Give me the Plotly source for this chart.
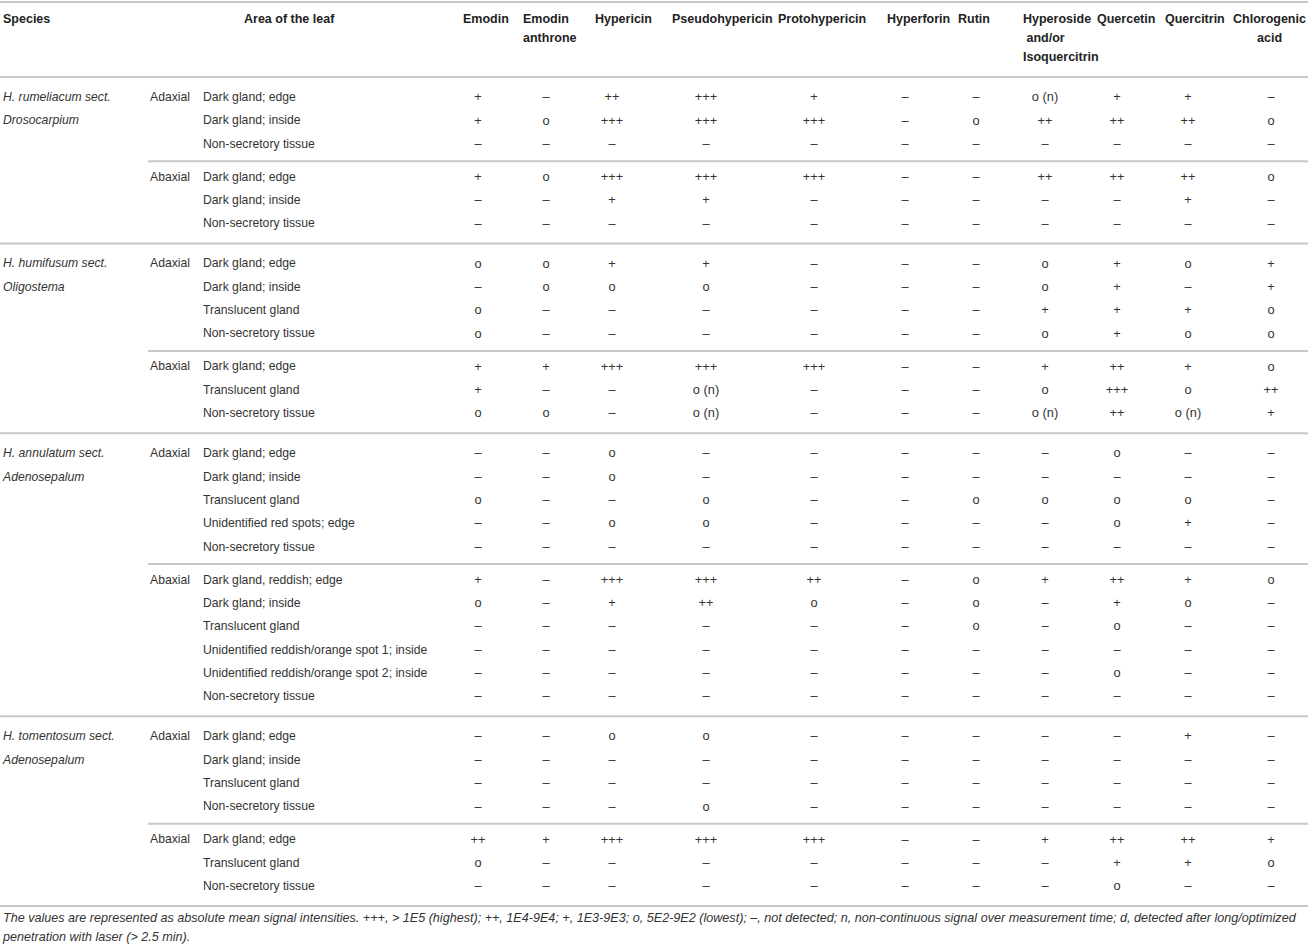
import plotly.graph_objects as go

D = "–"  # not detected

# column headers, one list item per printed line
compound_headers = [["Emodin"], ["Emodin", "anthrone"], ["Hypericin"], ["Pseudohypericin"],
                    ["Protohypericin"], ["Hyperforin"], ["Rutin"],
                    ["Hyperoside", " and/or", "Isoquercitrin"], ["Quercetin"], ["Quercitrin"],
                    ["Chlorogenic", "acid"]]

species = ["H. rumeliacum sect.", "H. humifusum sect.", "H. annulatum sect.", "H. tomentosum sect."]
sections = ["Drosocarpium", "Oligostema", "Adenosepalum", "Adenosepalum"]

rum_adaxial_areas = ["Dark gland; edge", "Dark gland; inside", "Non-secretory tissue"]
rum_adaxial = [
    ["+", D, "++", "+++", "+", D, D, "o (n)", "+", "+", D],
    ["+", "o", "+++", "+++", "+++", D, "o", "++", "++", "++", "o"],
    [D, D, D, D, D, D, D, D, D, D, D],
]
rum_abaxial_areas = ["Dark gland; edge", "Dark gland; inside", "Non-secretory tissue"]
rum_abaxial = [
    ["+", "o", "+++", "+++", "+++", D, D, "++", "++", "++", "o"],
    [D, D, "+", "+", D, D, D, D, D, "+", D],
    [D, D, D, D, D, D, D, D, D, D, D],
]

hum_adaxial_areas = ["Dark gland; edge", "Dark gland; inside", "Translucent gland", "Non-secretory tissue"]
hum_adaxial = [
    ["o", "o", "+", "+", D, D, D, "o", "+", "o", "+"],
    [D, "o", "o", "o", D, D, D, "o", "+", D, "+"],
    ["o", D, D, D, D, D, D, "+", "+", "+", "o"],
    ["o", D, D, D, D, D, D, "o", "+", "o", "o"],
]
hum_abaxial_areas = ["Dark gland; edge", "Translucent gland", "Non-secretory tissue"]
hum_abaxial = [
    ["+", "+", "+++", "+++", "+++", D, D, "+", "++", "+", "o"],
    ["+", D, D, "o (n)", D, D, D, "o", "+++", "o", "++"],
    ["o", "o", D, "o (n)", D, D, D, "o (n)", "++", "o (n)", "+"],
]

ann_adaxial_areas = ["Dark gland; edge", "Dark gland; inside", "Translucent gland",
                     "Unidentified red spots; edge", "Non-secretory tissue"]
ann_adaxial = [
    [D, D, "o", D, D, D, D, D, "o", D, D],
    [D, D, "o", D, D, D, D, D, D, D, D],
    ["o", D, D, "o", D, D, "o", "o", "o", "o", D],
    [D, D, "o", "o", D, D, D, D, "o", "+", D],
    [D, D, D, D, D, D, D, D, D, D, D],
]
ann_abaxial_areas = ["Dark gland, reddish; edge", "Dark gland; inside", "Translucent gland",
                     "Unidentified reddish/orange spot 1; inside",
                     "Unidentified reddish/orange spot 2; inside", "Non-secretory tissue"]
ann_abaxial = [
    ["+", D, "+++", "+++", "++", D, "o", "+", "++", "+", "o"],
    ["o", D, "+", "++", "o", D, "o", D, "+", "o", D],
    [D, D, D, D, D, D, "o", D, "o", D, D],
    [D, D, D, D, D, D, D, D, D, D, D],
    [D, D, D, D, D, D, D, D, "o", D, D],
    [D, D, D, D, D, D, D, D, D, D, D],
]

tom_adaxial_areas = ["Dark gland; edge", "Dark gland; inside", "Translucent gland", "Non-secretory tissue"]
tom_adaxial = [
    [D, D, "o", "o", D, D, D, D, D, "+", D],
    [D, D, D, D, D, D, D, D, D, D, D],
    [D, D, D, D, D, D, D, D, D, D, D],
    [D, D, D, "o", D, D, D, D, D, D, D],
]
tom_abaxial_areas = ["Dark gland; edge", "Translucent gland", "Non-secretory tissue"]
tom_abaxial = [
    ["++", "+", "+++", "+++", "+++", D, D, "+", "++", "++", "+"],
    ["o", D, D, D, D, D, D, D, "+", "+", "o"],
    [D, D, D, D, D, D, D, D, "o", D, D],
]

blocks = [
    [("Adaxial", rum_adaxial_areas, rum_adaxial), ("Abaxial", rum_abaxial_areas, rum_abaxial)],
    [("Adaxial", hum_adaxial_areas, hum_adaxial), ("Abaxial", hum_abaxial_areas, hum_abaxial)],
    [("Adaxial", ann_adaxial_areas, ann_adaxial), ("Abaxial", ann_abaxial_areas, ann_abaxial)],
    [("Adaxial", tom_adaxial_areas, tom_adaxial), ("Abaxial", tom_abaxial_areas, tom_abaxial)],
]

footnote = ["The values are represented as absolute mean signal intensities. +++, > 1E5 (highest); "
            "++, 1E4-9E4; +, 1E3-9E3; o, 5E2-9E2 (lowest); –, not detected; n, non-continuous signal "
            "over measurement time; d, detected after long/optimized",
            "penetration with laser (> 2.5 min)."]

# ---- layout (pixel-like units on hidden axes) ----
W, H = 1308, 947
FONT = "Liberation Sans, Arial, Helvetica, sans-serif"
TXT = "#333333"
LINE = "#c8c8c8"
value_x = [478, 546, 612, 706, 814, 905, 976, 1045, 1117, 1188, 1271]
header_x = [463, 523, 595, 672, 778, 887, 958, 1023, 1097, 1165, 1233]
acid_x = 1257
species_x, side_x, area_x = 3, 150, 203
area_head_x = 244
row_step, side_gap, group_gap = 23.35, 33, 40
y_first = 98

fig = go.Figure()
shapes = []

def hline(y, x0=0):
    shapes.append(dict(type="line", xref="x", yref="y", x0=x0, x1=W, y0=y, y1=y,
                       line=dict(color=LINE, width=2)))

hline(2)
hline(77)

# header
hx, hy, ht = [], [], []
for i, lines in enumerate(compound_headers):
    for k, t in enumerate(lines):
        x = header_x[i]
        if lines[0] == "Chlorogenic" and k == 1:
            x = acid_x
        hx.append(x)
        hy.append(20 + 19 * k)
        ht.append("<b>%s</b>" % t)
hx += [species_x, area_head_x]
hy += [20, 20]
ht += ["<b>Species</b>", "<b>Area of the leaf</b>"]
fig.add_trace(go.Scatter(x=hx, y=hy, text=ht, mode="text", textposition="middle right",
                         textfont=dict(family=FONT, size=12.5, color="#222222"), hoverinfo="skip"))

lx, ly, lt = [], [], []
vx, vy, vt = [], [], []
y = y_first
last_line = 0
for g, sides in enumerate(blocks):
    lx += [species_x, species_x]
    ly += [y, y + row_step]
    lt += ["<i>%s</i>" % species[g], "<i>%s</i>" % sections[g]]
    for s, (side, areas, vals) in enumerate(sides):
        if s > 0:
            y += side_gap
            hline(y - side_gap / 2, side_x - 2)
        lx.append(side_x)
        ly.append(y)
        lt.append(side)
        for r, (area, row) in enumerate(zip(areas, vals)):
            if r > 0:
                y += row_step
            lx.append(area_x)
            ly.append(y)
            lt.append(area)
            for c, v in enumerate(row):
                vx.append(value_x[c])
                vy.append(y)
                vt.append(v)
    last_line = y + 19
    hline(last_line)
    y += group_gap

fig.add_trace(go.Scatter(x=lx, y=ly, text=lt, mode="text", textposition="middle right",
                         textfont=dict(family=FONT, size=12.2, color=TXT), hoverinfo="skip"))
fig.add_trace(go.Scatter(x=vx, y=vy, text=vt, mode="text", textposition="middle center",
                         textfont=dict(family=FONT, size=12.8, color=TXT), hoverinfo="skip"))

fy = last_line + 13
fig.add_trace(go.Scatter(x=[species_x, species_x], y=[fy, fy + 19],
                         text=["<i>%s</i>" % t for t in footnote], mode="text",
                         textposition="middle right",
                         textfont=dict(family=FONT, size=12.6, color=TXT), hoverinfo="skip"))

fig.update_layout(width=W, height=H, margin=dict(l=0, r=0, t=0, b=0),
                  paper_bgcolor="white", plot_bgcolor="white", showlegend=False,
                  xaxis=dict(range=[0, W], visible=False, fixedrange=True),
                  yaxis=dict(range=[H, 0], visible=False, fixedrange=True),
                  shapes=shapes)

fig.write_html("out.html", config={"displayModeBar": False},
               post_script="document.body.style.margin='0';")
